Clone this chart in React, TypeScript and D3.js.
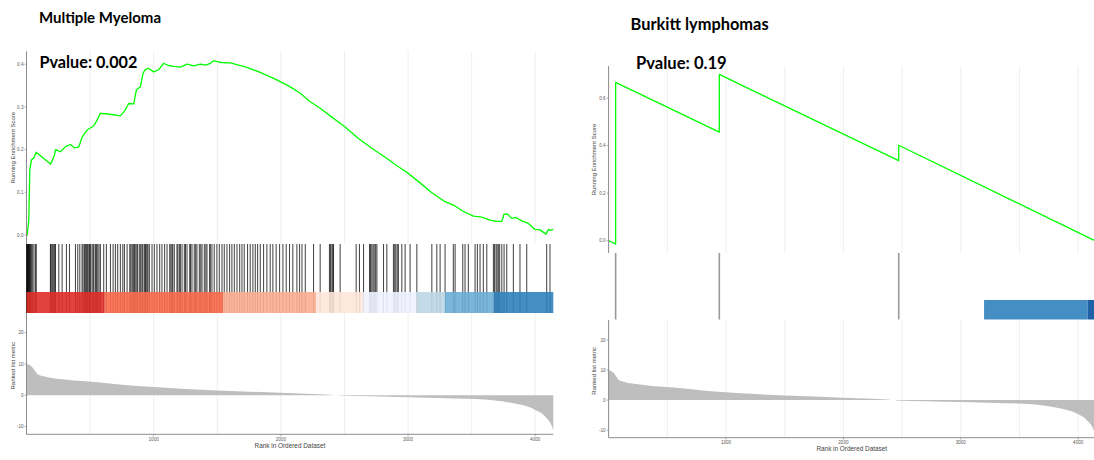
import React from "react";
import * as d3 from "d3";

// ---------------- data ----------------
const N_GENES = 4142;
const xTickValues = [1000, 2000, 3000, 4000];
const gridRanks = [500, 1000, 1500, 2000, 2500, 3000, 3500, 4000];
const metricTicks = [-10, 0, 10, 20];
const mmEsTicks = [0, 0.1, 0.2, 0.3, 0.4];
const blEsTicks = [0, 0.2, 0.4, 0.6];

const titles = ["Multiple Myeloma", "Burkitt lymphomas"];
const pvalues = ["Pvalue: 0.002", "Pvalue: 0.19"];

// ranked list metric (shared by both panels), [rank, value]
const metricPos: [number, number][] = [
  [0, 10], [15, 9.8], [40, 9.2], [70, 7.6], [90, 6.6], [150, 5.9], [200, 5.5],
  [300, 5.0], [400, 4.6], [580, 4.1], [800, 3.2], [1000, 2.6], [1250, 2.0],
  [1500, 1.5], [2000, 0.8], [2200, 0.5], [2400, 0.15],
];
const metricNeg: [number, number][] = [
  [2450, -0.1], [2700, -0.35], [3000, -0.65], [3300, -0.95], [3600, -1.35],
  [3830, -2.6], [3950, -3.8], [4000, -4.7], [4050, -5.8], [4090, -7.4],
  [4128, -9.6], [4142, -11.2],
];

// Multiple Myeloma running enrichment score, [rank, ES]
const mmEs: [number, number][] = [
  [0, 0], [5, 0.0], [18, 0.035], [26, 0.152], [39, 0.176], [57, 0.18], [76, 0.194],
  [189, 0.166], [220, 0.187], [228, 0.2], [267, 0.195], [306, 0.207], [346, 0.212],
  [377, 0.204], [411, 0.206], [437, 0.229], [477, 0.246], [529, 0.256], [555, 0.269],
  [581, 0.285], [620, 0.284], [699, 0.281], [738, 0.279], [770, 0.29], [804, 0.308],
  [843, 0.307], [864, 0.34], [895, 0.347], [917, 0.379], [935, 0.388], [961, 0.39],
  [1000, 0.382], [1039, 0.387], [1078, 0.402], [1118, 0.397], [1157, 0.395],
  [1210, 0.393], [1262, 0.4], [1315, 0.396], [1367, 0.4], [1410, 0.398],
  [1445, 0.402], [1470, 0.408], [1500, 0.406], [1530, 0.404], [1602, 0.403],
  [1720, 0.394], [1838, 0.381], [1956, 0.365], [2074, 0.347], [2152, 0.332],
  [2231, 0.312], [2309, 0.297], [2388, 0.279], [2500, 0.254], [2610, 0.226],
  [2715, 0.203], [2820, 0.182], [2912, 0.162], [2995, 0.146], [3082, 0.125],
  [3187, 0.099], [3291, 0.078], [3370, 0.068], [3435, 0.055], [3514, 0.044],
  [3580, 0.042], [3645, 0.035], [3697, 0.032], [3737, 0.032], [3755, 0.049],
  [3781, 0.049], [3815, 0.039], [3849, 0.041], [3894, 0.033], [3946, 0.027],
  [3998, 0.013], [4037, 0.012], [4085, 0.002], [4103, 0.013], [4121, 0.011],
  [4142, 0.013],
];

// Multiple Myeloma gene-set hit ranks
const mmHits: number[] = [
  1, 3, 6, 9, 12, 15, 19, 23, 27, 32, 38, 46, 58, 70, 77,
  188, 192, 200, 207, 215, 222, 228, 254, 280, 314, 338, 385, 403, 419, 437, 445,
  456, 465, 471, 480, 490, 495, 503, 515, 524, 530, 542, 550, 560, 570, 581, 607,
  628, 660, 681, 699, 717, 738, 757, 770, 791, 812, 820, 830, 838, 845, 851, 860,
  869, 875, 890, 898, 908, 915, 927, 935, 940, 948, 955, 966, 987, 1005, 1026,
  1047, 1065, 1086, 1105, 1126, 1135, 1144, 1150, 1162, 1183, 1190, 1202, 1210,
  1223, 1241, 1250, 1262, 1283, 1290, 1301, 1319, 1330, 1340, 1359, 1370, 1380,
  1398, 1410, 1419, 1440, 1445, 1458, 1476, 1497, 1516, 1537, 1555, 1576, 1597,
  1615, 1634, 1655, 1676, 1694, 1712, 1738, 1759, 1780, 1799, 1817, 1838, 1864,
  1890, 1916, 1937, 1963, 1990, 2016, 2042, 2068, 2094, 2126, 2147,
  2166, 2192, 2257, 2309, 2382, 2390, 2401, 2408, 2414, 2466, 2592, 2618, 2650,
  2697, 2705, 2715, 2725, 2734, 2745, 2755, 2807, 2833, 2885, 2895, 2904, 2915,
  2924, 2951, 2977, 3016, 3069, 3187, 3226, 3252, 3291, 3356, 3370, 3430, 3448,
  3474, 3527, 3545, 3566, 3592, 3619, 3671, 3680, 3692, 3700, 3710, 3720, 3737,
  3755, 3776, 3828, 3880, 3933, 4090, 4116,
];

// colour bar segments: [fromRank, toRank, colour]
const mmBand: [number, number, string][] = [
  [0, 615, "#de2d26"], [615, 1545, "#fb6a4a"], [1545, 2276, "#fcae91"],
  [2276, 2645, "#fee5d9"], [2645, 3069, "#eff3ff"], [3069, 3291, "#bdd7e7"],
  [3291, 3676, "#6baed6"], [3676, 4142, "#3182bd"],
];

// Burkitt lymphomas
const blEs: [number, number][] = [
  [0, 0], [60, -0.014], [60, 0.667], [943, 0.457], [943, 0.70],
  [2471, 0.337], [2471, 0.402], [4142, 0],
];
const blHits: number[] = [60, 943, 2471];
const blBand: [number, number, string][] = [
  [3198, 4081, "#3182bd"], [4081, 4142, "#08519c"],
];

// ---------------- drawing ----------------
type Layout = {
  xLeft: number;
  xRight: number;
  topRange: [number, number];
  esDomain: [number, number];
  hitsTop: number;
  bandTop: number;
  hitsBottom: number;
  botRange: [number, number];
  metricDomain: [number, number];
  yTitleX: number;
  xTickY: number;
  xTitleY: number;
  hitColor: string;
  hitWidth: number;
  hitOpacity: number;
};

const AXIS_FONT = "'Liberation Sans', Arial, sans-serif";

function GseaPanel(props: {
  L: Layout;
  es: [number, number][];
  hits: number[];
  band: [number, number, string][];
  esTicks: number[];
}) {
  const { L, es, hits, band, esTicks } = props;
  const x = d3.scaleLinear().domain([0, N_GENES]).range([L.xLeft, L.xRight]);
  const yEs = d3.scaleLinear().domain(L.esDomain).range(L.topRange);
  const yM = d3.scaleLinear().domain(L.metricDomain).range(L.botRange);
  const line = d3
    .line<[number, number]>()
    .x((d) => x(d[0]))
    .y((d) => yEs(d[1]));
  const area = d3
    .area<[number, number]>()
    .x((d) => x(d[0]))
    .y0(yM(0))
    .y1((d) => yM(d[1]))
    .curve(d3.curveMonotoneX);
  const fmt = d3.format(".1f");
  const topTop = L.topRange[1];
  const topBot = L.topRange[0];
  const botTop = L.botRange[1];
  const botBot = L.botRange[0];
  const grid = "#ebebeb";
  const axisCol = "#8c8c8c";
  const tickTxt = "#5a5a5a";

  return (
    <g>
      {gridRanks.map((r) => (
        <g key={"g" + r}>
          <line x1={x(r)} x2={x(r)} y1={topTop} y2={topBot} stroke={grid} strokeWidth={0.8} />
          <line x1={x(r)} x2={x(r)} y1={botTop} y2={botBot} stroke={grid} strokeWidth={0.8} />
        </g>
      ))}

      <path d={line(es) || ""} fill="none" stroke="#00ff00" strokeWidth={1.3} strokeLinejoin="round" />

      <line x1={L.xLeft} x2={L.xLeft} y1={topTop} y2={topBot} stroke={axisCol} strokeWidth={1} />
      {esTicks.map((t) => (
        <g key={"et" + t}>
          <line x1={L.xLeft - 2} x2={L.xLeft} y1={yEs(t)} y2={yEs(t)} stroke={axisCol} strokeWidth={0.7} />
          <text x={L.xLeft - 3} y={yEs(t)} dy="0.35em" textAnchor="end" fontSize={4.6} fill={tickTxt} fontFamily={AXIS_FONT}>
            {fmt(t)}
          </text>
        </g>
      ))}
      <text
        transform={`translate(${L.yTitleX},${(topTop + topBot) / 2}) rotate(-90)`}
        textAnchor="middle"
        dy="0.35em"
        fontSize={6}
        fill="#444"
        fontFamily={AXIS_FONT}
      >
        Running Enrichment Score
      </text>

      {hits.map((h, i) => (
        <line
          key={"h" + i}
          x1={x(h)}
          x2={x(h)}
          y1={L.hitsTop}
          y2={L.hitsBottom}
          stroke={L.hitColor}
          strokeWidth={L.hitWidth}
          strokeOpacity={L.hitOpacity}
        />
      ))}
      {band.map((b, i) => (
        <rect
          key={"b" + i}
          x={x(b[0])}
          width={x(b[1]) - x(b[0])}
          y={L.bandTop}
          height={L.hitsBottom - L.bandTop}
          fill={b[2]}
          fillOpacity={0.9}
        />
      ))}

      <path d={area(metricPos) || ""} fill="#bebebe" />
      <path d={area(metricNeg) || ""} fill="#bebebe" />

      <line x1={L.xLeft} x2={L.xLeft} y1={botTop} y2={botBot} stroke={axisCol} strokeWidth={1} />
      <line x1={L.xLeft} x2={L.xRight} y1={botBot} y2={botBot} stroke={axisCol} strokeWidth={1} />
      {metricTicks.map((t) => (
        <g key={"mt" + t}>
          <line x1={L.xLeft - 2} x2={L.xLeft} y1={yM(t)} y2={yM(t)} stroke={axisCol} strokeWidth={0.7} />
          <text x={L.xLeft - 3} y={yM(t)} dy="0.35em" textAnchor="end" fontSize={4.6} fill={tickTxt} fontFamily={AXIS_FONT}>
            {t}
          </text>
        </g>
      ))}
      {xTickValues.map((t) => (
        <g key={"xt" + t}>
          <line x1={x(t)} x2={x(t)} y1={botBot} y2={botBot + 2} stroke={axisCol} strokeWidth={0.7} />
          <text x={x(t)} y={L.xTickY} dy="0.35em" textAnchor="middle" fontSize={4.6} fill={tickTxt} fontFamily={AXIS_FONT}>
            {t}
          </text>
        </g>
      ))}
      <text
        transform={`translate(${L.yTitleX},${(botTop + botBot) / 2 - 8}) rotate(-90)`}
        textAnchor="middle"
        dy="0.35em"
        fontSize={6}
        fill="#444"
        fontFamily={AXIS_FONT}
      >
        Ranked list metric
      </text>
      <text
        x={(L.xLeft + L.xRight) / 2}
        y={L.xTitleY}
        dy="0.35em"
        textAnchor="middle"
        fontSize={6.4}
        fill="#444"
        fontFamily={AXIS_FONT}
      >
        Rank in Ordered Dataset
      </text>
    </g>
  );
}

const leftLayout: Layout = {
  xLeft: 26.5,
  xRight: 553.3,
  topRange: [244, 51.4],
  esDomain: [-0.0211, 0.43],
  hitsTop: 244,
  bandTop: 292,
  hitsBottom: 313,
  botRange: [434.3, 313],
  metricDomain: [-12.5, 26.3],
  yTitleX: 12.7,
  xTickY: 439.5,
  xTitleY: 445.8,
  hitColor: "#000",
  hitWidth: 1.05,
  hitOpacity: 0.72,
};

const rightLayout: Layout = {
  xLeft: 608.6,
  xRight: 1094.9,
  topRange: [253, 66],
  esDomain: [-0.0518, 0.7356],
  hitsTop: 253,
  bandTop: 300,
  hitsBottom: 319.5,
  botRange: [437.7, 320],
  metricDomain: [-12.5, 26.65],
  yTitleX: 594.3,
  xTickY: 442.5,
  xTitleY: 449,
  hitColor: "#999",
  hitWidth: 1.6,
  hitOpacity: 1,
};

const TITLE_FONT = "Lato, 'Open Sans', sans-serif";

export default function App() {
  return (
    <svg
      width={1094}
      height={460}
      style={{ position: "absolute", left: 0, top: 0, background: "#fff" }}
    >
      <rect x={0} y={0} width={1094} height={460} fill="#fff" />
      <GseaPanel L={leftLayout} es={mmEs} hits={mmHits} band={mmBand} esTicks={mmEsTicks} />
      <GseaPanel L={rightLayout} es={blEs} hits={blHits} band={blBand} esTicks={blEsTicks} />
      <text x={39} y={22.5} fontFamily={TITLE_FONT} fontWeight={700} fontSize={15} fill="#000">
        {titles[0]}
      </text>
      <text x={39.5} y={68} fontFamily={TITLE_FONT} fontWeight={700} fontSize={16.2} fill="#000">
        {pvalues[0]}
      </text>
      <text x={630.5} y={29.5} fontFamily={TITLE_FONT} fontWeight={700} fontSize={16.4} fill="#000">
        {titles[1]}
      </text>
      <text x={636} y={68.5} fontFamily={TITLE_FONT} fontWeight={700} fontSize={16.6} fill="#000">
        {pvalues[1]}
      </text>
    </svg>
  );
}
